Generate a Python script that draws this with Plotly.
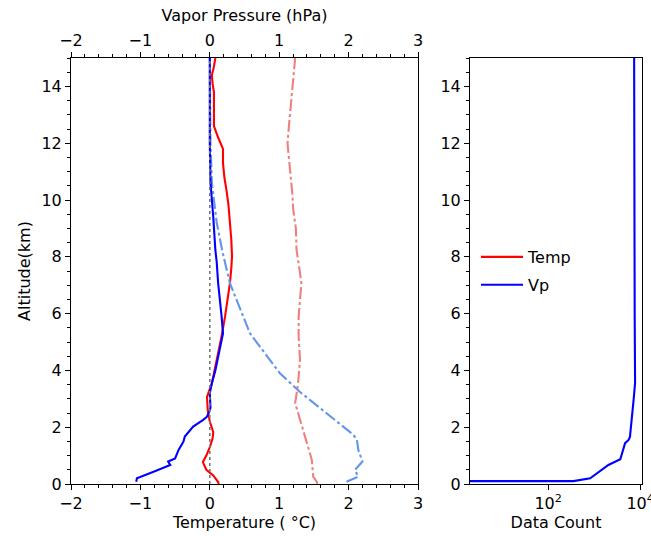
import plotly.graph_objects as go

# ---- data ----
# Temperature anomaly (red solid)
alt_temp = [0.0, 0.07, 0.3, 0.5, 0.77, 1.0, 1.3, 1.6, 1.83, 2.2, 2.6, 3.07, 3.55, 4.0, 4.37,
            4.8, 5.2, 5.9, 6.5, 7.07, 7.6, 8.0, 8.6, 9.2, 9.8, 10.35, 10.8, 11.3, 11.8, 12.2,
            12.6, 13.2, 13.8, 14.1, 14.4, 14.7, 15.0]
temp = [0.13, 0.12, 0.05, -0.05, -0.1, -0.05, 0.0, 0.04, 0.05, 0.0, -0.03, -0.04, 0.03, 0.07, 0.10,
        0.14, 0.17, 0.22, 0.26, 0.29, 0.31, 0.32, 0.31, 0.29, 0.27, 0.24, 0.21, 0.19, 0.19, 0.12,
        0.06, 0.06, 0.06, 0.04, 0.03, 0.06, 0.08]

# Vapor pressure anomaly (blue solid)
alt_vp = [0.08, 0.2, 0.43, 0.67, 0.79, 0.9, 1.2, 1.49, 1.67, 2.02, 2.25, 2.37, 2.6, 2.68, 3.2,
          3.55, 4.0, 4.48, 5.3, 5.9, 7.07, 7.8, 8.24, 9.4, 10.6, 12.0, 13.5, 15.0]
vp = [-1.06, -1.05, -0.81, -0.57, -0.6, -0.5, -0.45, -0.38, -0.36, -0.24, -0.1, -0.04, 0.0, 0.01, 0.0,
      0.03, 0.08, 0.12, 0.19, 0.17, 0.12, 0.1, 0.08, 0.05, 0.01, 0.0, 0.0, 0.0]

# Vapor pressure reference profile (cornflowerblue dash-dot)
alt_vp2 = [0.08, 0.26, 0.49, 0.79, 1.2, 1.55, 1.73, 2.5, 3.24, 3.9, 5.3, 7.07, 8.2, 9.2, 10.6,
           12.0, 13.5, 15.0]
vp2 = [1.97, 2.14, 2.09, 2.2, 2.14, 2.12, 2.07, 1.68, 1.3, 1.01, 0.58, 0.29, 0.18, 0.1, 0.03,
       0.01, 0.0, 0.0]

# Temperature reference profile (lightcoral dash-dot)
alt_temp2 = [0.0, 0.08, 0.26, 0.85, 1.44, 1.83, 2.3, 2.85, 3.5, 4.37, 5.2, 5.9, 6.5, 7.07, 7.6,
             8.24, 9.0, 9.7, 10.2, 10.8, 11.4, 12.0, 12.6, 13.2, 13.8, 14.4, 15.0]
temp2 = [1.55, 1.54, 1.49, 1.47, 1.4, 1.35, 1.3, 1.23, 1.27, 1.3, 1.28, 1.28, 1.3, 1.32, 1.29,
         1.25, 1.24, 1.2, 1.19, 1.17, 1.15, 1.12, 1.14, 1.16, 1.19, 1.2, 1.23]

# Data count (right panel)
alt_count = [0.1, 0.1, 0.2, 0.67, 0.87, 1.31, 1.44, 1.55, 1.66, 2.96, 3.07, 3.55, 6.0, 9.0, 12.0, 15.0]
count = [1, 355, 820, 2040, 3700, 4370, 4700, 5600, 6000, 7200, 7250, 7750, 7600, 7500, 7450, 7400]

x_ticks = [-2, -1, 0, 1, 2, 3]
y_ticks = [0, 2, 4, 6, 8, 10, 12, 14]
count_ticks = [100, 10000]
count_ticktext = ["10<sup>2</sup>", "10<sup>4</sup>"]

FONT = dict(family="DejaVu Sans", size=16, color="black")
LW = 2.1
DASHDOT = "12px,3px,3px,3px"

fig = go.Figure()

fig.add_trace(go.Scatter(x=temp2, y=alt_temp2, mode="lines", xaxis="x", yaxis="y",
                         line=dict(color="#F08080", width=LW, dash=DASHDOT), showlegend=False))
fig.add_trace(go.Scatter(x=vp2, y=alt_vp2, mode="lines", xaxis="x2", yaxis="y",
                         line=dict(color="#6495ED", width=LW, dash=DASHDOT), showlegend=False))
fig.add_trace(go.Scatter(x=temp, y=alt_temp, mode="lines", name="Temp", xaxis="x", yaxis="y",
                         legendgroup="t", line=dict(color="#FF0000", width=LW)))
fig.add_trace(go.Scatter(x=vp, y=alt_vp, mode="lines", name="Vp", xaxis="x2", yaxis="y",
                         legendgroup="v", line=dict(color="#0000FF", width=LW)))
fig.add_trace(go.Scatter(x=count, y=alt_count, mode="lines", xaxis="x3", yaxis="y2",
                         line=dict(color="#0000FF", width=LW), showlegend=False))

fig.add_vline(x=0, line=dict(color="#777777", width=1.6, dash="dot"), xref="x", yref="y")

common = dict(showline=True, linecolor="black", linewidth=1, ticks="outside", ticklen=5,
              tickwidth=1, tickcolor="black", showgrid=False, zeroline=False,
              tickfont=FONT, title_font=FONT, automargin=False)

L_DOM = [71 / 651, 418 / 651]
R_DOM = [470 / 651, 642 / 651]
Y_DOM = [(536 - 484) / 536, (536 - 58) / 536]

fig.update_layout(
    width=651, height=536,
    margin=dict(l=0, r=0, t=0, b=0, autoexpand=False),
    paper_bgcolor="white", plot_bgcolor="white",
    font=FONT,
    xaxis=dict(common, domain=L_DOM, anchor="y", range=[-2, 3], tickvals=x_ticks,
               minor=dict(dtick=0.2, ticks="outside", ticklen=3, tickcolor="black"),
               title=dict(text="Temperature ( °C)", standoff=4)),
    xaxis2=dict(common, overlaying="x", side="top", anchor="y", range=[-2, 3], tickvals=x_ticks,
                minor=dict(dtick=0.2, ticks="outside", ticklen=3, tickcolor="black"),
                title=dict(text="Vapor Pressure (hPa)", standoff=4)),
    yaxis=dict(common, domain=Y_DOM, anchor="x", range=[0, 15], tickvals=y_ticks, mirror=True,
               minor=dict(dtick=0.5, ticks="outside", ticklen=3, tickcolor="black"),
               title=dict(text="Altitude(km)", standoff=6)),
    xaxis3=dict(common, domain=R_DOM, anchor="y2", type="log", range=[0.301, 4.04],
                tickvals=count_ticks, ticktext=count_ticktext, mirror=True,
                ticklabeloverflow="allow",
                title=dict(text="Data Count", standoff=4)),
    yaxis2=dict(common, domain=Y_DOM, anchor="x3", range=[0, 15], tickvals=y_ticks, mirror=True,
                minor=dict(dtick=0.5, ticks="outside", ticklen=3, tickcolor="black")),
    legend=dict(x=476 / 651, y=(536 - 271) / 536, xanchor="left", yanchor="middle",
                bgcolor="rgba(0,0,0,0)", font=FONT, tracegroupgap=4, itemwidth=42),
)

fig.write_html("out.html")
